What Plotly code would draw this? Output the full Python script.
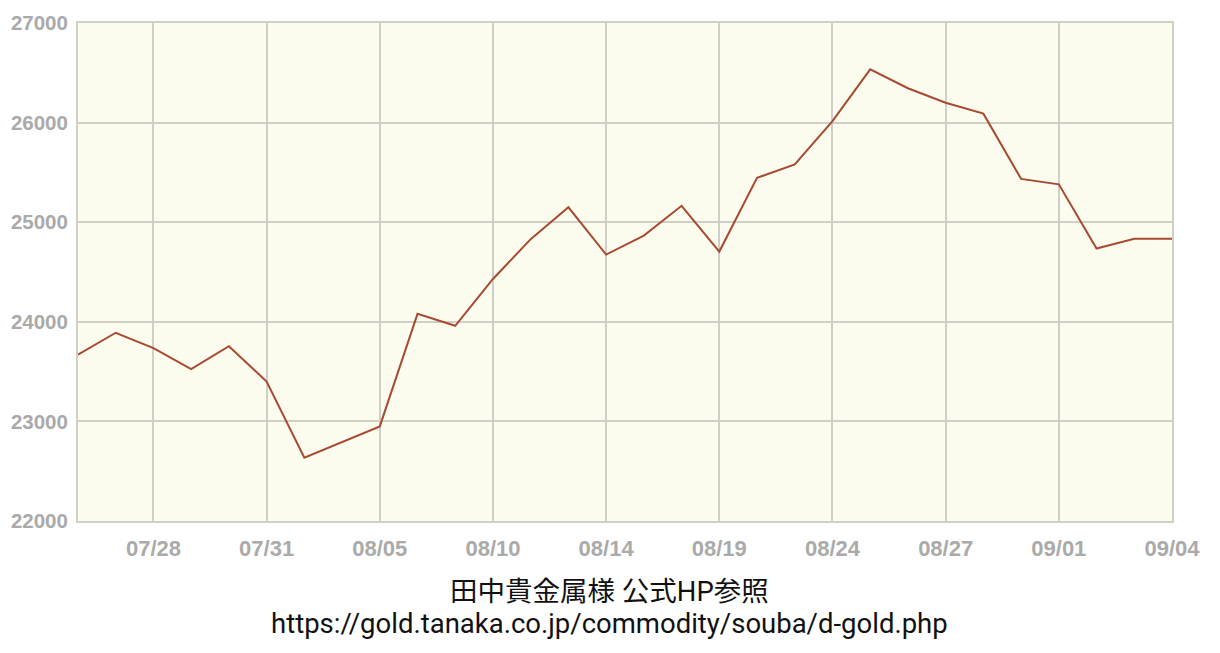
import plotly.graph_objects as go

# 日付 (カテゴリ) と価格
dates = ['07/26', '07/27', '07/28', '07/29', '07/30', '07/31', '08/01', '08/04', '08/05', '08/06',
         '08/07', '08/10', '08/11', '08/12', '08/14', '08/17', '08/18', '08/19', '08/20', '08/21',
         '08/24', '08/25', '08/26', '08/27', '08/28', '08/31', '09/01', '09/02', '09/03', '09/04']
prices = [23670, 23890, 23735, 23525, 23755, 23400, 22635, 22795, 22950, 24080,
          23960, 24430, 24830, 25150, 24675, 24865, 25165, 24705, 25445, 25580,
          26015, 26535, 26345, 26200, 26090, 25435, 25380, 24735, 24833, 24833]
tick_dates = ['07/28', '07/31', '08/05', '08/10', '08/14', '08/19', '08/24', '08/27', '09/01', '09/04']
y_ticks = [22000, 23000, 24000, 25000, 26000, 27000]

caption = ['田中貴金属様 公式HP参照', 'https://gold.tanaka.co.jp/commodity/souba/d-gold.php']

fig = go.Figure(go.Scatter(
    x=dates, y=prices, mode='lines',
    line=dict(color='#a84a32', width=2),
    hoverinfo='x+y'))

grid = '#d0d0c8'
fig.update_xaxes(type='category', range=[0, len(dates) - 1], automargin=False,
                 tickvals=tick_dates, ticktext=tick_dates,
                 showgrid=True, gridcolor=grid, gridwidth=2,
                 showline=True, linecolor=grid, linewidth=2, mirror=True,
                 ticks='', ticklabelstandoff=7,
                 tickfont=dict(family='Liberation Sans', size=22, color='#aaaaaa', weight='bold'))
fig.update_yaxes(range=[22000, 27000], automargin=False,
                 tickvals=y_ticks, ticktext=[str(v) for v in y_ticks],
                 showgrid=True, gridcolor=grid, gridwidth=2,
                 showline=True, linecolor=grid, linewidth=2, mirror=True,
                 zeroline=False, ticks='', ticklabelstandoff=4,
                 tickfont=dict(family='Liberation Sans', size=20.5, color='#aaaaaa', weight='bold'))

for txt, yy in zip(caption, [-0.1406, -0.2068]):
    fig.add_annotation(text=txt, xref='paper', yref='paper', x=0.486, y=yy,
                       showarrow=False, xanchor='center', yanchor='middle',
                       font=dict(family='Roboto, Noto Sans CJK JP', size=27.5, color='#111111'))

fig.update_layout(width=1220, height=653,
                  margin=dict(l=70, r=56, t=15, b=140),
                  plot_bgcolor='#fdfdef', paper_bgcolor='white',
                  showlegend=False)

fig.write_html("out.html")
